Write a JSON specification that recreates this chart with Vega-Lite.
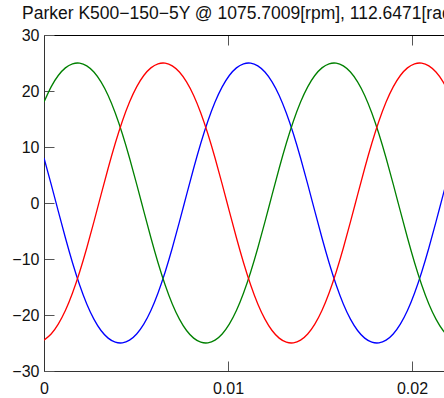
{
"$schema": "https://vega.github.io/schema/vega-lite/v6.json",
"width": 400,
"height": 336,
"autosize": {"type": "none"},
"padding": {"left": 44, "top": 35, "right": 0, "bottom": 27},
"background": "white",
"title": {"text": "Parker K500−150−5Y @ 1075.7009[rpm], 112.6471[rad/s]", "anchor": "start", "frame": "group", "dx": -22, "dy": 21, "offset": 12, "baseline": "alphabetic", "font": "Liberation Sans", "fontSize": 17.5, "fontWeight": "normal", "color": "#111"},
"datasets": {"w": [
{"t":0,"v":8.03,"s":"blue"},{"t":0.0003873,"v":3.37,"s":"blue"},{"t":0.0007747,"v":-1.45,"s":"blue"},{"t":0.001162,"v":-6.2,"s":"blue"},{"t":0.0015494,"v":-10.66,"s":"blue"},{"t":0.0019367,"v":-14.64,"s":"blue"},{"t":0.002324,"v":-18.03,"s":"blue"},{"t":0.0027114,"v":-20.74,"s":"blue"},{"t":0.0030987,"v":-22.77,"s":"blue"},{"t":0.0034861,"v":-24.13,"s":"blue"},{"t":0.0038734,"v":-24.85,"s":"blue"},{"t":0.0042607,"v":-24.97,"s":"blue"},{"t":0.0046481,"v":-24.49,"s":"blue"},{"t":0.0050354,"v":-23.39,"s":"blue"},{"t":0.0054228,"v":-21.63,"s":"blue"},{"t":0.0058101,"v":-19.2,"s":"blue"},{"t":0.0061974,"v":-16.07,"s":"blue"},{"t":0.0065848,"v":-12.32,"s":"blue"},{"t":0.0069721,"v":-8.03,"s":"blue"},{"t":0.0073595,"v":-3.37,"s":"blue"},{"t":0.0077468,"v":1.45,"s":"blue"},{"t":0.0081341,"v":6.2,"s":"blue"},{"t":0.0085215,"v":10.66,"s":"blue"},{"t":0.0089088,"v":14.64,"s":"blue"},{"t":0.0092962,"v":18.03,"s":"blue"},{"t":0.0096835,"v":20.74,"s":"blue"},{"t":0.0100708,"v":22.77,"s":"blue"},{"t":0.0104582,"v":24.13,"s":"blue"},{"t":0.0108455,"v":24.85,"s":"blue"},{"t":0.0112329,"v":24.97,"s":"blue"},{"t":0.0116202,"v":24.49,"s":"blue"},{"t":0.0120075,"v":23.39,"s":"blue"},{"t":0.0123949,"v":21.63,"s":"blue"},{"t":0.0127822,"v":19.2,"s":"blue"},{"t":0.0131696,"v":16.07,"s":"blue"},{"t":0.0135569,"v":12.32,"s":"blue"},{"t":0.0139442,"v":8.03,"s":"blue"},{"t":0.0143316,"v":3.37,"s":"blue"},{"t":0.0147189,"v":-1.45,"s":"blue"},{"t":0.0151063,"v":-6.2,"s":"blue"},{"t":0.0154936,"v":-10.66,"s":"blue"},{"t":0.0158809,"v":-14.64,"s":"blue"},{"t":0.0162683,"v":-18.03,"s":"blue"},{"t":0.0166556,"v":-20.74,"s":"blue"},{"t":0.017043,"v":-22.77,"s":"blue"},{"t":0.0174303,"v":-24.13,"s":"blue"},{"t":0.0178176,"v":-24.85,"s":"blue"},{"t":0.018205,"v":-24.97,"s":"blue"},{"t":0.0185923,"v":-24.49,"s":"blue"},{"t":0.0189797,"v":-23.39,"s":"blue"},{"t":0.019367,"v":-21.63,"s":"blue"},{"t":0.0197543,"v":-19.2,"s":"blue"},{"t":0.0201417,"v":-16.07,"s":"blue"},{"t":0.020529,"v":-12.32,"s":"blue"},{"t":0.0209164,"v":-8.03,"s":"blue"},{"t":0.0213037,"v":-3.37,"s":"blue"},{"t":0.021691,"v":1.45,"s":"blue"},{"t":0.0220784,"v":6.2,"s":"blue"},
{"t":0,"v":18.03,"s":"green"},{"t":0.0003873,"v":20.74,"s":"green"},{"t":0.0007747,"v":22.77,"s":"green"},{"t":0.001162,"v":24.13,"s":"green"},{"t":0.0015494,"v":24.85,"s":"green"},{"t":0.0019367,"v":24.97,"s":"green"},{"t":0.002324,"v":24.49,"s":"green"},{"t":0.0027114,"v":23.39,"s":"green"},{"t":0.0030987,"v":21.63,"s":"green"},{"t":0.0034861,"v":19.2,"s":"green"},{"t":0.0038734,"v":16.07,"s":"green"},{"t":0.0042607,"v":12.32,"s":"green"},{"t":0.0046481,"v":8.03,"s":"green"},{"t":0.0050354,"v":3.37,"s":"green"},{"t":0.0054228,"v":-1.45,"s":"green"},{"t":0.0058101,"v":-6.2,"s":"green"},{"t":0.0061974,"v":-10.66,"s":"green"},{"t":0.0065848,"v":-14.64,"s":"green"},{"t":0.0069721,"v":-18.03,"s":"green"},{"t":0.0073595,"v":-20.74,"s":"green"},{"t":0.0077468,"v":-22.77,"s":"green"},{"t":0.0081341,"v":-24.13,"s":"green"},{"t":0.0085215,"v":-24.85,"s":"green"},{"t":0.0089088,"v":-24.97,"s":"green"},{"t":0.0092962,"v":-24.49,"s":"green"},{"t":0.0096835,"v":-23.39,"s":"green"},{"t":0.0100708,"v":-21.63,"s":"green"},{"t":0.0104582,"v":-19.2,"s":"green"},{"t":0.0108455,"v":-16.07,"s":"green"},{"t":0.0112329,"v":-12.32,"s":"green"},{"t":0.0116202,"v":-8.03,"s":"green"},{"t":0.0120075,"v":-3.37,"s":"green"},{"t":0.0123949,"v":1.45,"s":"green"},{"t":0.0127822,"v":6.2,"s":"green"},{"t":0.0131696,"v":10.66,"s":"green"},{"t":0.0135569,"v":14.64,"s":"green"},{"t":0.0139442,"v":18.03,"s":"green"},{"t":0.0143316,"v":20.74,"s":"green"},{"t":0.0147189,"v":22.77,"s":"green"},{"t":0.0151063,"v":24.13,"s":"green"},{"t":0.0154936,"v":24.85,"s":"green"},{"t":0.0158809,"v":24.97,"s":"green"},{"t":0.0162683,"v":24.49,"s":"green"},{"t":0.0166556,"v":23.39,"s":"green"},{"t":0.017043,"v":21.63,"s":"green"},{"t":0.0174303,"v":19.2,"s":"green"},{"t":0.0178176,"v":16.07,"s":"green"},{"t":0.018205,"v":12.32,"s":"green"},{"t":0.0185923,"v":8.03,"s":"green"},{"t":0.0189797,"v":3.37,"s":"green"},{"t":0.019367,"v":-1.45,"s":"green"},{"t":0.0197543,"v":-6.2,"s":"green"},{"t":0.0201417,"v":-10.66,"s":"green"},{"t":0.020529,"v":-14.64,"s":"green"},{"t":0.0209164,"v":-18.03,"s":"green"},{"t":0.0213037,"v":-20.74,"s":"green"},{"t":0.021691,"v":-22.77,"s":"green"},{"t":0.0220784,"v":-24.13,"s":"green"},
{"t":0,"v":-24.49,"s":"red"},{"t":0.0003873,"v":-23.39,"s":"red"},{"t":0.0007747,"v":-21.63,"s":"red"},{"t":0.001162,"v":-19.2,"s":"red"},{"t":0.0015494,"v":-16.07,"s":"red"},{"t":0.0019367,"v":-12.32,"s":"red"},{"t":0.002324,"v":-8.03,"s":"red"},{"t":0.0027114,"v":-3.37,"s":"red"},{"t":0.0030987,"v":1.45,"s":"red"},{"t":0.0034861,"v":6.2,"s":"red"},{"t":0.0038734,"v":10.66,"s":"red"},{"t":0.0042607,"v":14.64,"s":"red"},{"t":0.0046481,"v":18.03,"s":"red"},{"t":0.0050354,"v":20.74,"s":"red"},{"t":0.0054228,"v":22.77,"s":"red"},{"t":0.0058101,"v":24.13,"s":"red"},{"t":0.0061974,"v":24.85,"s":"red"},{"t":0.0065848,"v":24.97,"s":"red"},{"t":0.0069721,"v":24.49,"s":"red"},{"t":0.0073595,"v":23.39,"s":"red"},{"t":0.0077468,"v":21.63,"s":"red"},{"t":0.0081341,"v":19.2,"s":"red"},{"t":0.0085215,"v":16.07,"s":"red"},{"t":0.0089088,"v":12.32,"s":"red"},{"t":0.0092962,"v":8.03,"s":"red"},{"t":0.0096835,"v":3.37,"s":"red"},{"t":0.0100708,"v":-1.45,"s":"red"},{"t":0.0104582,"v":-6.2,"s":"red"},{"t":0.0108455,"v":-10.66,"s":"red"},{"t":0.0112329,"v":-14.64,"s":"red"},{"t":0.0116202,"v":-18.03,"s":"red"},{"t":0.0120075,"v":-20.74,"s":"red"},{"t":0.0123949,"v":-22.77,"s":"red"},{"t":0.0127822,"v":-24.13,"s":"red"},{"t":0.0131696,"v":-24.85,"s":"red"},{"t":0.0135569,"v":-24.97,"s":"red"},{"t":0.0139442,"v":-24.49,"s":"red"},{"t":0.0143316,"v":-23.39,"s":"red"},{"t":0.0147189,"v":-21.63,"s":"red"},{"t":0.0151063,"v":-19.2,"s":"red"},{"t":0.0154936,"v":-16.07,"s":"red"},{"t":0.0158809,"v":-12.32,"s":"red"},{"t":0.0162683,"v":-8.03,"s":"red"},{"t":0.0166556,"v":-3.37,"s":"red"},{"t":0.017043,"v":1.45,"s":"red"},{"t":0.0174303,"v":6.2,"s":"red"},{"t":0.0178176,"v":10.66,"s":"red"},{"t":0.018205,"v":14.64,"s":"red"},{"t":0.0185923,"v":18.03,"s":"red"},{"t":0.0189797,"v":20.74,"s":"red"},{"t":0.019367,"v":22.77,"s":"red"},{"t":0.0197543,"v":24.13,"s":"red"},{"t":0.0201417,"v":24.85,"s":"red"},{"t":0.020529,"v":24.97,"s":"red"},{"t":0.0209164,"v":24.49,"s":"red"},{"t":0.0213037,"v":23.39,"s":"red"},{"t":0.021691,"v":21.63,"s":"red"},{"t":0.0220784,"v":19.2,"s":"red"}
]},
"data": {"name": "w"},
"layer": [
 {
  "mark": {"type": "line", "interpolate": "natural", "strokeWidth": 1.3, "clip": true},
  "encoding": {
   "x": {"field": "t", "type": "quantitative", "scale": {"domain": [0, 0.02174], "nice": false, "zero": false},
         "axis": {"orient": "bottom", "values": [0, 0.01, 0.02], "format": "~g", "title": null, "tickSize": -10, "labelPadding": 19, "labelFlush": false, "domainColor": "#333"}},
   "y": {"field": "v", "type": "quantitative", "scale": {"domain": [-30, 30], "nice": false, "zero": false},
         "axis": {"orient": "left", "values": [-30, -20, -10, 0, 10, 20, 30], "title": null, "tickSize": -10, "labelPadding": 15, "labelFlush": false, "domainColor": "#333"}},
   "color": {"field": "s", "type": "nominal", "scale": {"domain": ["red", "green", "blue"], "range": ["#ff0000", "#008000", "#0000ff"]}, "legend": null}
  }
 },
 {
  "mark": {"type": "line", "opacity": 0},
  "encoding": {
   "x": {"field": "t", "type": "quantitative", "scale": {"domain": [0, 0.02174], "nice": false, "zero": false},
         "axis": {"orient": "top", "values": [0.01, 0.02], "labels": false, "title": null, "tickSize": -10, "domainColor": "#000", "minExtent": 0, "maxExtent": 0, "labelPadding": 0, "offset": 0}},
   "y": {"field": "v", "type": "quantitative", "axis": null},
   "detail": {"field": "s"}
  }
 }
],
"resolve": {"axis": {"x": "independent", "y": "independent"}},
"config": {
 "view": {"stroke": null},
 "axis": {"grid": false, "labelFont": "Liberation Sans", "labelFontSize": 16, "labelColor": "#111", "tickColor": "#555", "tickWidth": 1, "domainWidth": 1}
}
}
